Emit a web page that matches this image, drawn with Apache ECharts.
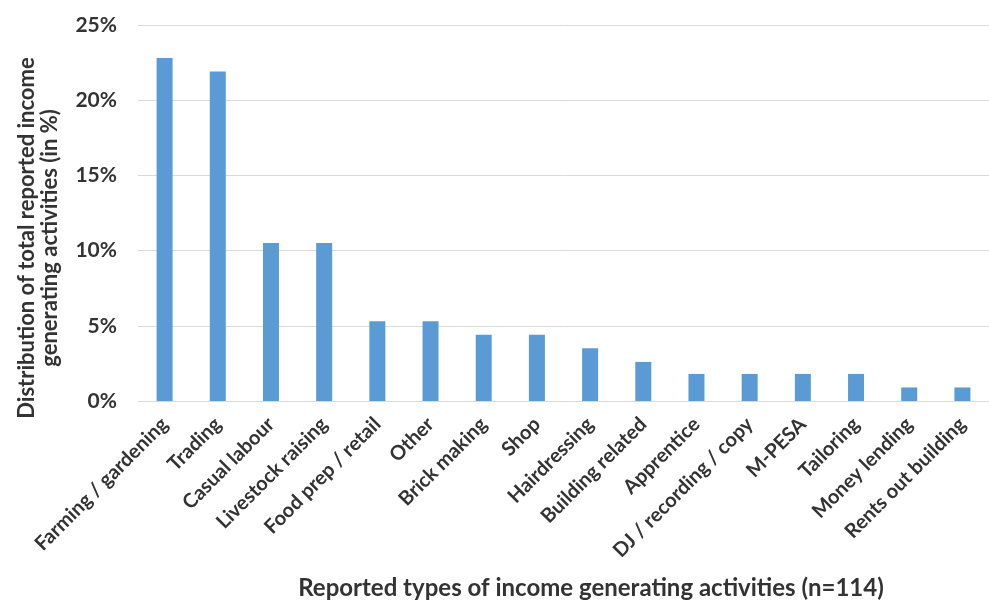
<!DOCTYPE html>
<html>
<head>
<meta charset="utf-8">
<script src="https://cdn.jsdelivr.net/npm/echarts@6/dist/echarts.min.js"></script>
<style>
  html, body { margin: 0; padding: 0; background: #fff; }
  #chart { width: 989px; height: 608px; }
</style>
</head>
<body>
<div id="chart"></div>
<script>
// Income generating activities and their share of all reported activities (%)
const categories = [
  'Farming / gardening', 'Trading', 'Casual labour', 'Livestock raising',
  'Food prep / retail', 'Other', 'Brick making', 'Shop', 'Hairdressing',
  'Building related', 'Apprentice', 'DJ / recording / copy', 'M-PESA',
  'Tailoring', 'Money lending', 'Rents out building'
];
const shares = [22.8, 21.9, 10.5, 10.5, 5.3, 5.3, 4.4, 4.4, 3.5, 2.6, 1.8, 1.8, 1.8, 1.8, 0.9, 0.9];
const yTicks = [0, 5, 10, 15, 20, 25];

const textColor = '#333333';
const fontFamily = 'Lato, "Open Sans", sans-serif';

const chart = echarts.init(document.getElementById('chart'), null, { renderer: 'canvas' });
chart.setOption({
  backgroundColor: '#ffffff',
  animation: false,
  grid: { left: 138, top: 25, width: 859, bottom: 207, containLabel: false },
  xAxis: {
    type: 'category',
    data: categories,
    axisLine: { lineStyle: { color: '#d9d9d9', width: 1 } },
    axisTick: { show: false },
    axisLabel: {
      interval: 0,
      rotate: 45,
      margin: 20,
      color: textColor,
      fontFamily: fontFamily,
      fontWeight: 'bold',
      fontSize: 20
    }
  },
  yAxis: {
    type: 'value',
    min: yTicks[0],
    max: yTicks[yTicks.length - 1],
    interval: 5,
    axisLine: { show: false },
    axisTick: { show: false },
    splitLine: { lineStyle: { color: '#d9d9d9', width: 1 } },
    axisLabel: {
      margin: 21,
      color: textColor,
      fontFamily: fontFamily,
      fontWeight: 'bold',
      fontSize: 21,
      formatter: v => v + '%'
    }
  },
  series: [{
    type: 'bar',
    data: shares,
    barWidth: 16,
    itemStyle: { color: '#5b9bd5' }
  }],
  graphic: [
    {
      type: 'text',
      x: 38,
      y: 238,
      rotation: Math.PI / 2,
      style: {
        text: 'Distribution of total reported income\ngenerating activities (in %)',
        textAlign: 'center',
        textVerticalAlign: 'middle',
        lineHeight: 23,
        fill: textColor,
        font: 'bold 22px ' + fontFamily
      }
    },
    {
      type: 'text',
      x: 591,
      y: 588,
      style: {
        text: 'Reported types of income generating activities (n=114)',
        textAlign: 'center',
        textVerticalAlign: 'middle',
        fill: textColor,
        font: 'bold 24px ' + fontFamily
      }
    }
  ]
});
</script>
</body>
</html>
